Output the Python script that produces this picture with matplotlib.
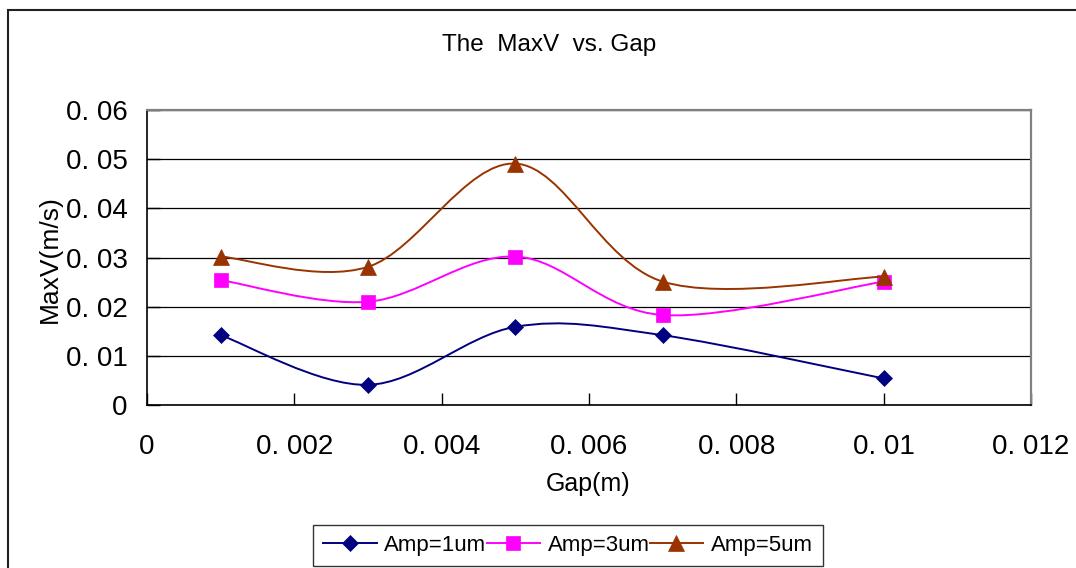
import numpy as np
import matplotlib
matplotlib.use("Agg")
import matplotlib.pyplot as plt
from matplotlib.path import Path
from matplotlib.patches import PathPatch, Rectangle
from matplotlib.lines import Line2D

plt.rcParams['font.family'] = ['Liberation Sans Narrow', 'Liberation Sans', 'DejaVu Sans']

# data
gap = [0.001, 0.003, 0.005, 0.007, 0.010]
amp1 = [0.0142, 0.0041, 0.0159, 0.0142, 0.0054]
amp3 = [0.0254, 0.0210, 0.0302, 0.0183, 0.0251]
amp5 = [0.0302, 0.0281, 0.0491, 0.0251, 0.0261]
series_names = ["Amp=1um", "Amp=3um", "Amp=5um"]
x_ticks = [0, 0.002, 0.004, 0.006, 0.008, 0.010, 0.012]
x_tick_labels = ["0", "0. 002", "0. 004", "0. 006", "0. 008", "0. 01", "0. 012"]
y_ticks = [0, 0.01, 0.02, 0.03, 0.04, 0.05, 0.06]
y_tick_labels = ["0", "0. 01", "0. 02", "0. 03", "0. 04", "0. 05", "0. 06"]

colors = ["#000080", "#FF00FF", "#993300"]
markers = ["D", "s", "^"]
msizes = [8.2, 9.6, 11.5]


def smooth_path(xs, ys):
    """Smoothed line through the points as cubic Bezier segments (Catmull-Rom)."""
    pts = np.column_stack([xs, ys]).astype(float)
    n = len(pts)
    verts = [pts[0]]
    codes = [Path.MOVETO]
    for i in range(n - 1):
        p0 = pts[i - 1] if i > 0 else pts[i]
        p1 = pts[i]
        p2 = pts[i + 1]
        p3 = pts[i + 2] if i + 2 < n else pts[i + 1]
        c1 = p1 + (p2 - p0) / 6.0
        c2 = p2 - (p3 - p1) / 6.0
        verts += [c1, c2, p2]
        codes += [Path.CURVE4] * 3
    return Path(verts, codes)


W, H = 1076, 568
fig = plt.figure(figsize=(W / 100, H / 100), dpi=100)
fig.patch.set_facecolor("white")

# outer chart border
fig.patches.append(Rectangle((8 / W, -0.1), 1.2, 1 - 10 / H + 0.1,
                             transform=fig.transFigure, fill=False,
                             edgecolor="#202020", linewidth=1.5))

left, right, top, bottom = 147 / W, 1031 / W, 1 - 110 / H, 1 - 405 / H
ax = fig.add_axes([left, bottom, right - left, top - bottom])
ax.set_xlim(0, 0.012)
ax.set_ylim(0, 0.06)

ax.set_xticks(x_ticks)
ax.set_xticklabels(x_tick_labels)
ax.set_yticks(y_ticks)
ax.set_yticklabels(y_tick_labels)
ax.tick_params(axis="x", direction="in", length=9, width=1, color="black",
               labelsize=20, pad=21)
ax.tick_params(axis="y", direction="in", length=9, width=1, color="black",
               labelsize=20, pad=14)

ax.yaxis.grid(True, color="black", linewidth=0.9)
ax.set_axisbelow(True)
for side in ("left", "bottom"):
    ax.spines[side].set_color("black")
    ax.spines[side].set_linewidth(1.2)
for side in ("top", "right"):
    ax.spines[side].set_color("#808080")
    ax.spines[side].set_linewidth(1.6)

handles = []
for k, (ys, c, m, ms, name) in enumerate(zip([amp1, amp3, amp5], colors, markers,
                                             msizes, series_names)):
    ax.add_patch(PathPatch(smooth_path(gap, ys), facecolor="none", edgecolor=c,
                           linewidth=1.4, zorder=3 + 2 * k, capstyle="round",
                           joinstyle="round"))
    ax.plot(gap, ys, linestyle="none", marker=m, markersize=ms, color=c,
            markeredgecolor=c, markeredgewidth=0.5, zorder=4 + 2 * k, clip_on=False)
    handles.append(Line2D([], [], color=c, linewidth=1.4, marker=m,
                          markersize=ms, markeredgecolor=c, markeredgewidth=0.5,
                          label=name))

fig.text(549 / W, 1 - 45 / H, "The  MaxV  vs. Gap", ha="center", va="center",
         fontsize=17.5)
fig.text(50 / W, 1 - 259 / H, "MaxV(m/s)", ha="center", va="center",
         rotation=90, fontsize=19)
fig.text(588 / W, 1 - 484 / H, "Gap(m)", ha="center", va="center", fontsize=18)

leg = fig.legend(handles=handles, loc="center", ncol=3,
                 bbox_to_anchor=(568 / W, 1 - 545 / H), fontsize=16,
                 frameon=True, fancybox=False, shadow=False,
                 handlelength=2.4, handletextpad=0.35, columnspacing=0.0,
                 borderpad=0.45, borderaxespad=0)
leg.get_frame().set_edgecolor("black")
leg.get_frame().set_linewidth(1.0)

fig.savefig("out.png", dpi=100, facecolor="white")
